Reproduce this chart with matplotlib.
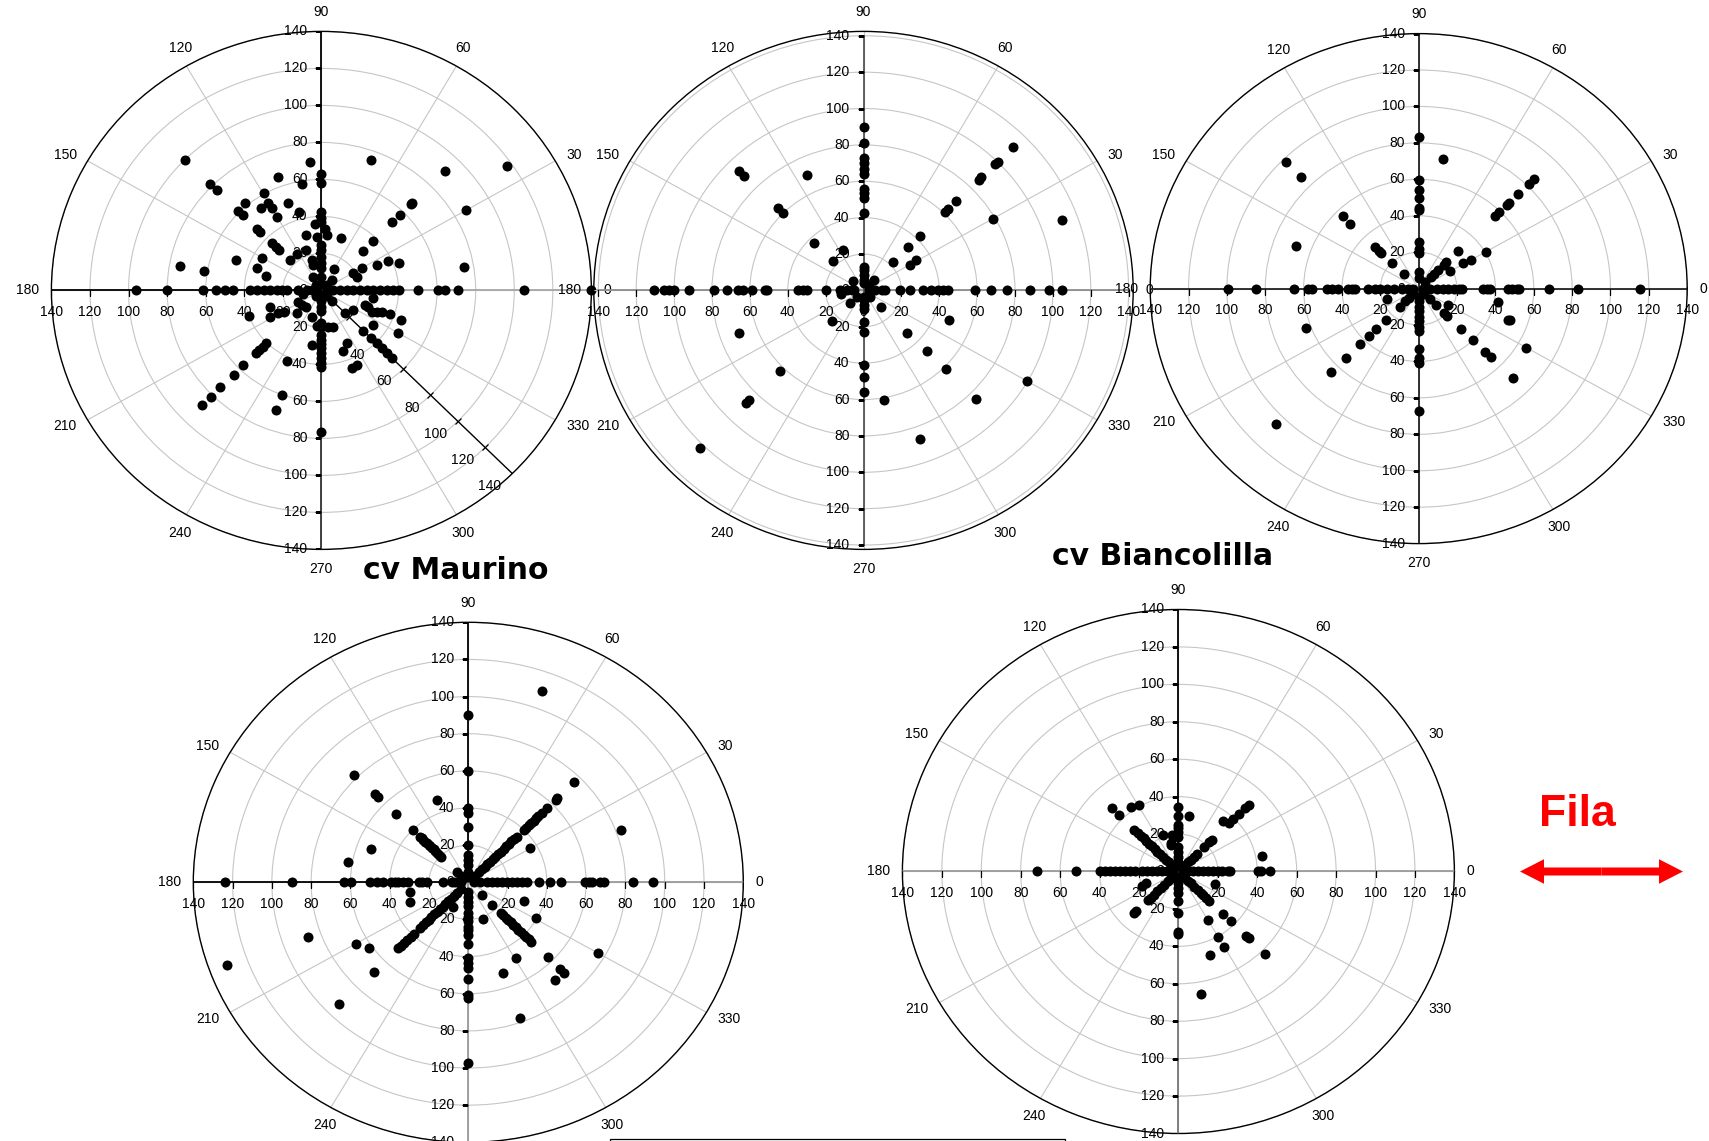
import numpy as np
import matplotlib
matplotlib.use('Agg')
import matplotlib.pyplot as plt
from matplotlib.patches import FancyArrow, Rectangle
from matplotlib.markers import MarkerStyle
from matplotlib.transforms import Affine2D

plt.rcParams['font.family'] = 'Liberation Sans'

W, H = 1709, 1141
fig = plt.figure(figsize=(W / 100, H / 100), dpi=100)

angle_ticks = np.arange(0, 360, 30)
rings = np.arange(20, 141, 20)
diag_labels = [40, 60, 80, 100, 120, 140]

# radii of the dots lying on each compass direction, then the loose ones (angle, radius)
# panel 1 - top left (cv Maurino)
p1_e = [2.8, 6.2, 9.7, 13.1, 16.6, 20, 23.5, 26.9, 30.4, 33.9, 37.3, 40.4, 50, 60.4, 64, 71, 105, 140]
p1_ne = [4, 8, 30.3, 38, 52, 57.6, 65.7, 66.5, 90.9]
p1_n = [3.5, 7.4, 11.9, 14.6, 18.2, 21.8, 24.5, 37, 39, 42.2, 58.2, 62.9]
p1_nw = [4, 23, 30.8, 33, 36.5, 45, 47.2, 57.4, 60.8, 76.7, 81.5, 100]
p1_w = [2.4, 5, 7.6, 12, 18, 20.6, 23.1, 26.6, 30, 33.5, 37, 46, 50, 54.4, 61.3, 80.3, 96.2]
p1_sw = [4, 40.5, 43, 45.5, 48, 57.3, 64.4, 74.2, 81.3, 87.7]
p1_s = [3, 6, 9, 11, 17.8, 19.6, 24.1, 26.8, 29, 31.4, 34, 36.8, 39.5, 41.3, 76.4]
p1_se = [4, 8, 17.2, 30.7, 36.5, 40.5, 44.3, 48, 52]
p1_oth_ang = [94.9, 70, 100, 110.3, 119.8, 130.1, 125.3, 120.3, 120.1, 120.1, 110, 105.3, 95.2, 87,
              84.6, 94.8, 105.2, 70, 123.1, 110.4, 107, 106.7, 120.4, 59.9, 159.6, 150.5, 160.3, 165,
              170.2, 169.8, 30, 34.9, 29.7, 30.4, 22, 25.3, 24.8, 19.9, 9.8, 192, 207, 217.8, 228,
              224, 250.6, 199, 208, 200, 209, 210.8, 260.4, 244.5, 250, 250, 263, 280.4, 286.8, 328,
              340.7, 340, 351, 336, 338, 339.8, 340, 339, 330, 325, 294.6, 289, 290.4, 294.4]
p1_oth_r = [69.8, 75, 58.2, 65.1, 60.4, 61.5, 54.3, 54.5, 51.2, 46, 50, 44, 36.3, 33.5,
            30, 28.7, 31, 29.9, 23.4, 23.3, 17.1, 14.3, 8.1, 13.2, 47.1, 35.2, 35.3, 29.8,
            62, 74.4, 86.7, 117.2, 24, 18.8, 19.7, 32.1, 37.9, 43, 75, 9.5, 13.4, 12.9, 11.8,
            17.8, 15, 28.1, 30.2, 40.2, 25.5, 22.5, 29.9, 42, 60.2, 68.8, 19.4, 19.9, 20.5, 19.5,
            23.9, 25.9, 27.2, 28.5, 30.9, 33.3, 37.9, 44, 46, 32.8, 31.5, 34.7, 45, 44.4]

# panel 2 - top middle
p2_e = [3, 6, 9.6, 11.5, 19.5, 24.6, 31.2, 35.5, 39.5, 42.2, 44.6, 59.1, 67.2, 75.8, 87.8, 97.9, 104.6]
p2_ne = [4, 8, 22.2, 33.5, 42.2, 60.6, 63, 69.3, 86, 88, 98.5, 100.2, 111.7]
p2_n = [3.8, 5.7, 8.4, 11.2, 13, 42.5, 51, 53.5, 56, 64, 67, 70, 73, 81, 90]
p2_nw = [7.6, 23, 37, 60, 64, 89, 93]
p2_w = [4.8, 6.2, 8.9, 12.4, 20, 30, 32.2, 34.5, 51, 52, 59.1, 63.4, 66.5, 72, 79.1, 92.2,
        100.2, 102.7, 105.2, 110.4]
p2_sw = [5, 10, 23.8, 62.3, 85.3, 87.5, 122.2]
p2_s = [3.5, 5.3, 8, 10, 17.2, 23, 41, 47.5, 56]
p2_se = [5, 13, 32.8, 47.5, 61.5, 84.2]
p2_oth_ang = [29.5, 31, 30, 20.3, 116, 115, 190, 199.5, 340, 280, 330, 290]
p2_oth_r = [28.3, 32.3, 79, 111.5, 25, 70.3, 12, 69.8, 48, 61.2, 99.5, 87.2]

# panel 3 - top right
p3_e = [2.4, 5.9, 9.4, 12.9, 15.5, 18.2, 20.8, 22.4, 33.5, 35.5, 37, 46.5, 48.8, 51, 52.5, 68.2,
        83.2, 115.2]
p3_ne = [5, 8.9, 11.4, 14.6, 18.3, 20.4, 29, 56, 59.5, 65, 66.8, 73.5, 81.2, 85.3]
p3_n = [5.7, 9.3, 19.5, 21.5, 25.7, 43, 44.5, 49.5, 54, 59.5, 83.3]
p3_nw = [11, 19.5, 27.5, 29, 32, 50.5, 56, 87, 98]
p3_w = [2.8, 5.4, 8.9, 13, 16.7, 20.2, 22.8, 26.3, 33.2, 35, 36.7, 42, 45.4, 48, 55.8, 57.6, 65.2,
        84.8, 99.5]
p3_sw = [4, 7, 10, 14, 24, 31.7, 37, 43, 53.8, 64.4, 105]
p3_s = [4.4, 7, 10, 12.5, 15.5, 18, 21, 23.5, 33, 38, 40.7, 67]
p3_se = [4, 8, 13, 19, 21, 31, 40, 49, 53, 69.7]
p3_oth_ang = [30, 30.8, 30.2, 30.2, 160, 80, 199.5, 200, 330, 350, 340, 340, 330]
p3_oth_r = [18.9, 27.1, 31.4, 40.4, 68.2, 72.2, 17.7, 62.6, 17.9, 42, 49.7, 50.7, 64.8]

# panel 4 - bottom left
p4_e = [3, 6, 9.3, 12, 14.5, 17, 19.5, 22, 24.6, 27.2, 29.7, 36, 41.5, 47.3, 59.4, 61.4, 63, 66.8,
        69, 84, 94.2]
p4_ne = [4.8, 7.9, 10, 11.8, 13.8, 15.7, 17.6, 19.5, 21.5, 23.4, 25.4, 27.4, 29.3, 31.1, 33, 34.8,
         40, 41.7, 43.5, 45, 47, 49, 50.5, 53, 56.5, 63, 64, 76.3]
p4_n = [3, 5.7, 9.5, 12, 14.6, 20.2, 30, 37.2, 40, 60, 90]
p4_nw = [5, 8, 19.4, 21, 22.4, 24, 25, 26, 27.3, 28.5, 29.8, 31, 32.3, 33.5, 34.8, 40, 52.1, 64.7,
         66.9, 82]
p4_w = [3.5, 7, 8.5, 12.8, 21.2, 23.5, 25, 30.6, 33, 35.7, 37.5, 39.5, 43.3, 46.7, 50.2, 59.7, 63.5,
        90, 123.8]
p4_sw = [5, 8, 10.5, 12.5, 14.5, 16.5, 18.5, 20.5, 22.5, 24.5, 26.5, 28.5, 30.5, 32.5, 34.5, 39,
         41.5, 44, 46.5, 48.5, 50.3, 68, 92.8]
p4_s = [5, 7.7, 10.4, 13, 16.7, 18.5, 21, 24, 25.7, 28.4, 33, 41, 43.6, 46.3, 52, 60.7, 62.3, 97.3]
p4_se = [9.7, 17.1, 23.2, 25, 26.9, 28.7, 30.6, 32.5, 34.3, 36, 38, 40, 41.7, 43.5, 45.4, 57.1,
         66.2, 69]
p4_oth_ang = [20, 30, 70, 110, 160, 170, 240, 190, 200, 210, 215, 200, 200, 291, 340, 330.6, 300.7,
              290, 310, 330, 290]
p4_oth_r = [82.5, 36.5, 109.4, 47.2, 52.5, 62.1, 15.2, 30.2, 31.7, 66, 61.7, 86.7, 130.7, 21.1,
            30.2, 39.6, 47.6, 51.8, 68.4, 76.3, 77.6]

# panel 5 - bottom right
p5_e = [2.5, 5, 7.6, 10, 12.7, 15.2, 17.8, 20.3, 22, 25.4, 26.2, 40.3, 42, 46.3]
p5_ne = [3, 5, 7, 9, 11, 13, 18.4, 22, 24, 36.6, 39.5, 43.2, 48, 50.4]
p5_n = [3.5, 5.3, 8, 10.5, 13.3, 18.3, 21, 23.5, 25, 29.4, 34.2]
p5_nw = [3, 5, 7, 9, 11, 13, 15, 17, 19, 21, 23, 25, 27, 29, 31.5, 42.7, 47.8]
p5_w = [3.4, 6, 8.5, 11, 13.5, 16, 18.6, 22, 24.5, 27, 29.6, 32, 34.7, 37.2, 39.8, 52, 71.5]
p5_sw = [3, 5, 7.5, 10, 12.5, 15, 17.5, 20, 21.5, 30.2, 31.6]
p5_s = [3.6, 6.3, 9, 11.7, 16, 22.3, 32.2, 33.3]
p5_se = [3, 5, 7, 9, 11.5, 14, 16, 18, 20, 22, 32.2, 37.4, 48.6, 50.3, 62.3]
p5_oth_ang = [100, 104, 80, 11, 50, 125, 119, 112, 105, 200, 203, 340, 300, 300, 300, 290, 280]
p5_oth_r = [19.8, 15.9, 30.1, 43.4, 35, 42, 40.8, 21, 14.7, 17.5, 20.2, 19.8, 30, 40.3, 46.3, 47.5,
            66.6]

compass = [0, 45, 90, 135, 180, 225, 270, 315]


def panel(cx, cy, rx, ry, rmax, rays, oth_ang, oth_r, half_cols, right_scale=True):
    ax = fig.add_axes([(cx - rx) / W, 1 - (cy + ry) / H, 2 * rx / W, 2 * ry / H],
                      projection='polar')
    ax.set_aspect('auto')
    ax.set_facecolor('none')
    ax.set_ylim(0, rmax)
    ax.set_xticks(np.deg2rad(angle_ticks))
    ax.set_xticklabels([])
    ax.set_yticks(rings)
    ax.set_yticklabels([])
    ax.tick_params(axis='x', direction='out', length=4, width=0.8, color='k')
    ax.tick_params(axis='y', length=0)
    ax.grid(True, color='#c6c6c6', lw=0.8)
    ax.spines['polar'].set_color('k')
    ax.spines['polar'].set_linewidth(1.0)

    # the cross of value axes
    for d, col in zip([0, 90, 180, 270], half_cols):
        ax.plot([np.deg2rad(d)] * 2, [0, 140], color=col, lw=1.3, zorder=3)
    ax.plot([np.pi / 2] * len(rings), rings, ls='none', marker=0, ms=4, mew=0.9, color='k', zorder=3)
    ax.plot([3 * np.pi / 2] * len(rings), rings, ls='none', marker=0, ms=4, mew=0.9, color='k', zorder=3)
    ax.plot([np.pi] * len(rings), rings, ls='none', marker=3, ms=4, mew=0.9, color='k', zorder=3)
    if right_scale:
        ax.plot([0] * len(rings), rings, ls='none', marker=3, ms=4, mew=0.9, color='k', zorder=3)

    lab = dict(textcoords='offset points', fontsize=10, annotation_clip=False, zorder=3)
    for v in rings:
        ax.annotate(str(v), (np.pi / 2, v), xytext=(-10, 0), ha='right', va='center', **lab)
        ax.annotate(str(v), (3 * np.pi / 2, v), xytext=(-10, 0), ha='right', va='center', **lab)
        ax.annotate(str(v), (np.pi, v), xytext=(0, -15.5), ha='center', va='center', **lab)
        if right_scale:
            ax.annotate(str(v), (0, v), xytext=(0, -15.5), ha='center', va='center', **lab)
    ax.annotate('0', (0, 0), xytext=(-10, 0), ha='right', va='center', **lab)
    ax.annotate('0', (0, 0), xytext=(0, -15.5), ha='center', va='center', **lab)

    for a in angle_ticks:
        th = np.deg2rad(a)
        c, s = np.cos(th), np.sin(th)
        ha = 'center' if abs(c) < 0.6 else ('left' if c > 0 else 'right')
        va = 'center' if abs(s) < 0.6 else ('bottom' if s > 0 else 'top')
        ax.annotate(str(a), (th, rmax), xytext=(9 * c, 9 * s), ha=ha, va=va, **lab)

    ang = np.concatenate([np.full(len(v), d) for d, v in zip(compass, rays)] + [oth_ang])
    rad = np.concatenate(list(rays) + [oth_r])
    ax.scatter(np.deg2rad(ang), rad, s=52, c='k', linewidths=0, zorder=10, clip_on=False)
    return ax


ax1 = panel(321.4, 290.4, 270, 259, 140,
            [p1_e, p1_ne, p1_n, p1_nw, p1_w, p1_sw, p1_s, p1_se], p1_oth_ang, p1_oth_r,
            ['#a6a6a6', 'k', 'k', '#333333'], right_scale=False)
# extra value axis along 315 degrees
th = np.deg2rad(315)
ax1.plot([th, th], [0, 140], color='k', lw=1.0, zorder=3)
tick45 = MarkerStyle('_', transform=Affine2D().rotate_deg(45))
ax1.plot([th] * len(rings), rings, ls='none', marker=tick45, ms=6, mew=0.9, color='k', zorder=3)
for v in diag_labels:
    ax1.annotate(str(v), (th, v), xytext=(-8, -4), textcoords='offset points', ha='right',
                 va='top', fontsize=10, annotation_clip=False)

panel(863.5, 290.4, 269.7, 259, 142.4,
      [p2_e, p2_ne, p2_n, p2_nw, p2_w, p2_sw, p2_s, p2_se], p2_oth_ang, p2_oth_r,
      ['#8c8c8c', '#555555', '#8c8c8c', '#555555'])
panel(1418.7, 288.6, 268.5, 255, 140,
      [p3_e, p3_ne, p3_n, p3_nw, p3_w, p3_sw, p3_s, p3_se], p3_oth_ang, p3_oth_r,
      ['#222222', '#222222', '#222222', '#222222'])
panel(468.3, 882.3, 275, 260, 140,
      [p4_e, p4_ne, p4_n, p4_nw, p4_w, p4_sw, p4_s, p4_se], p4_oth_ang, p4_oth_r,
      ['#9a9a9a', 'k', 'k', '#9a9a9a'])
panel(1178.4, 871.5, 276, 262, 140,
      [p5_e, p5_ne, p5_n, p5_nw, p5_w, p5_sw, p5_s, p5_se], p5_oth_ang, p5_oth_r,
      ['#9a9a9a', 'k', '#9a9a9a', '#777777'])

fig.text(456 / W, 1 - 579 / H, 'cv Maurino', family='DejaVu Sans', weight='bold', fontsize=21.5,
         ha='center', va='baseline')
fig.text(1163 / W, 1 - 565 / H, 'cv Biancolilla', family='DejaVu Sans', weight='bold',
         fontsize=21.5, ha='center', va='baseline')
fig.text(1577 / W, 1 - 826 / H, 'Fila', weight='bold', fontsize=32, color='#ff0000',
         ha='center', va='baseline')

# red double arrow
acx, acy = 1601.5 / 100, (H - 871.5) / 100
for dx in (0.815, -0.815):
    fig.add_artist(FancyArrow(acx, acy, dx, 0, width=0.08, head_width=0.245, head_length=0.24,
                              length_includes_head=True, color='#ff0000', lw=0,
                              transform=fig.dpi_scale_trans))

# box cut by the bottom edge
fig.add_artist(Rectangle((6.10, -0.5), 4.55, 0.52, fill=False, lw=0.9, ec='k',
                         transform=fig.dpi_scale_trans))

fig.savefig('out.png', dpi=100)
